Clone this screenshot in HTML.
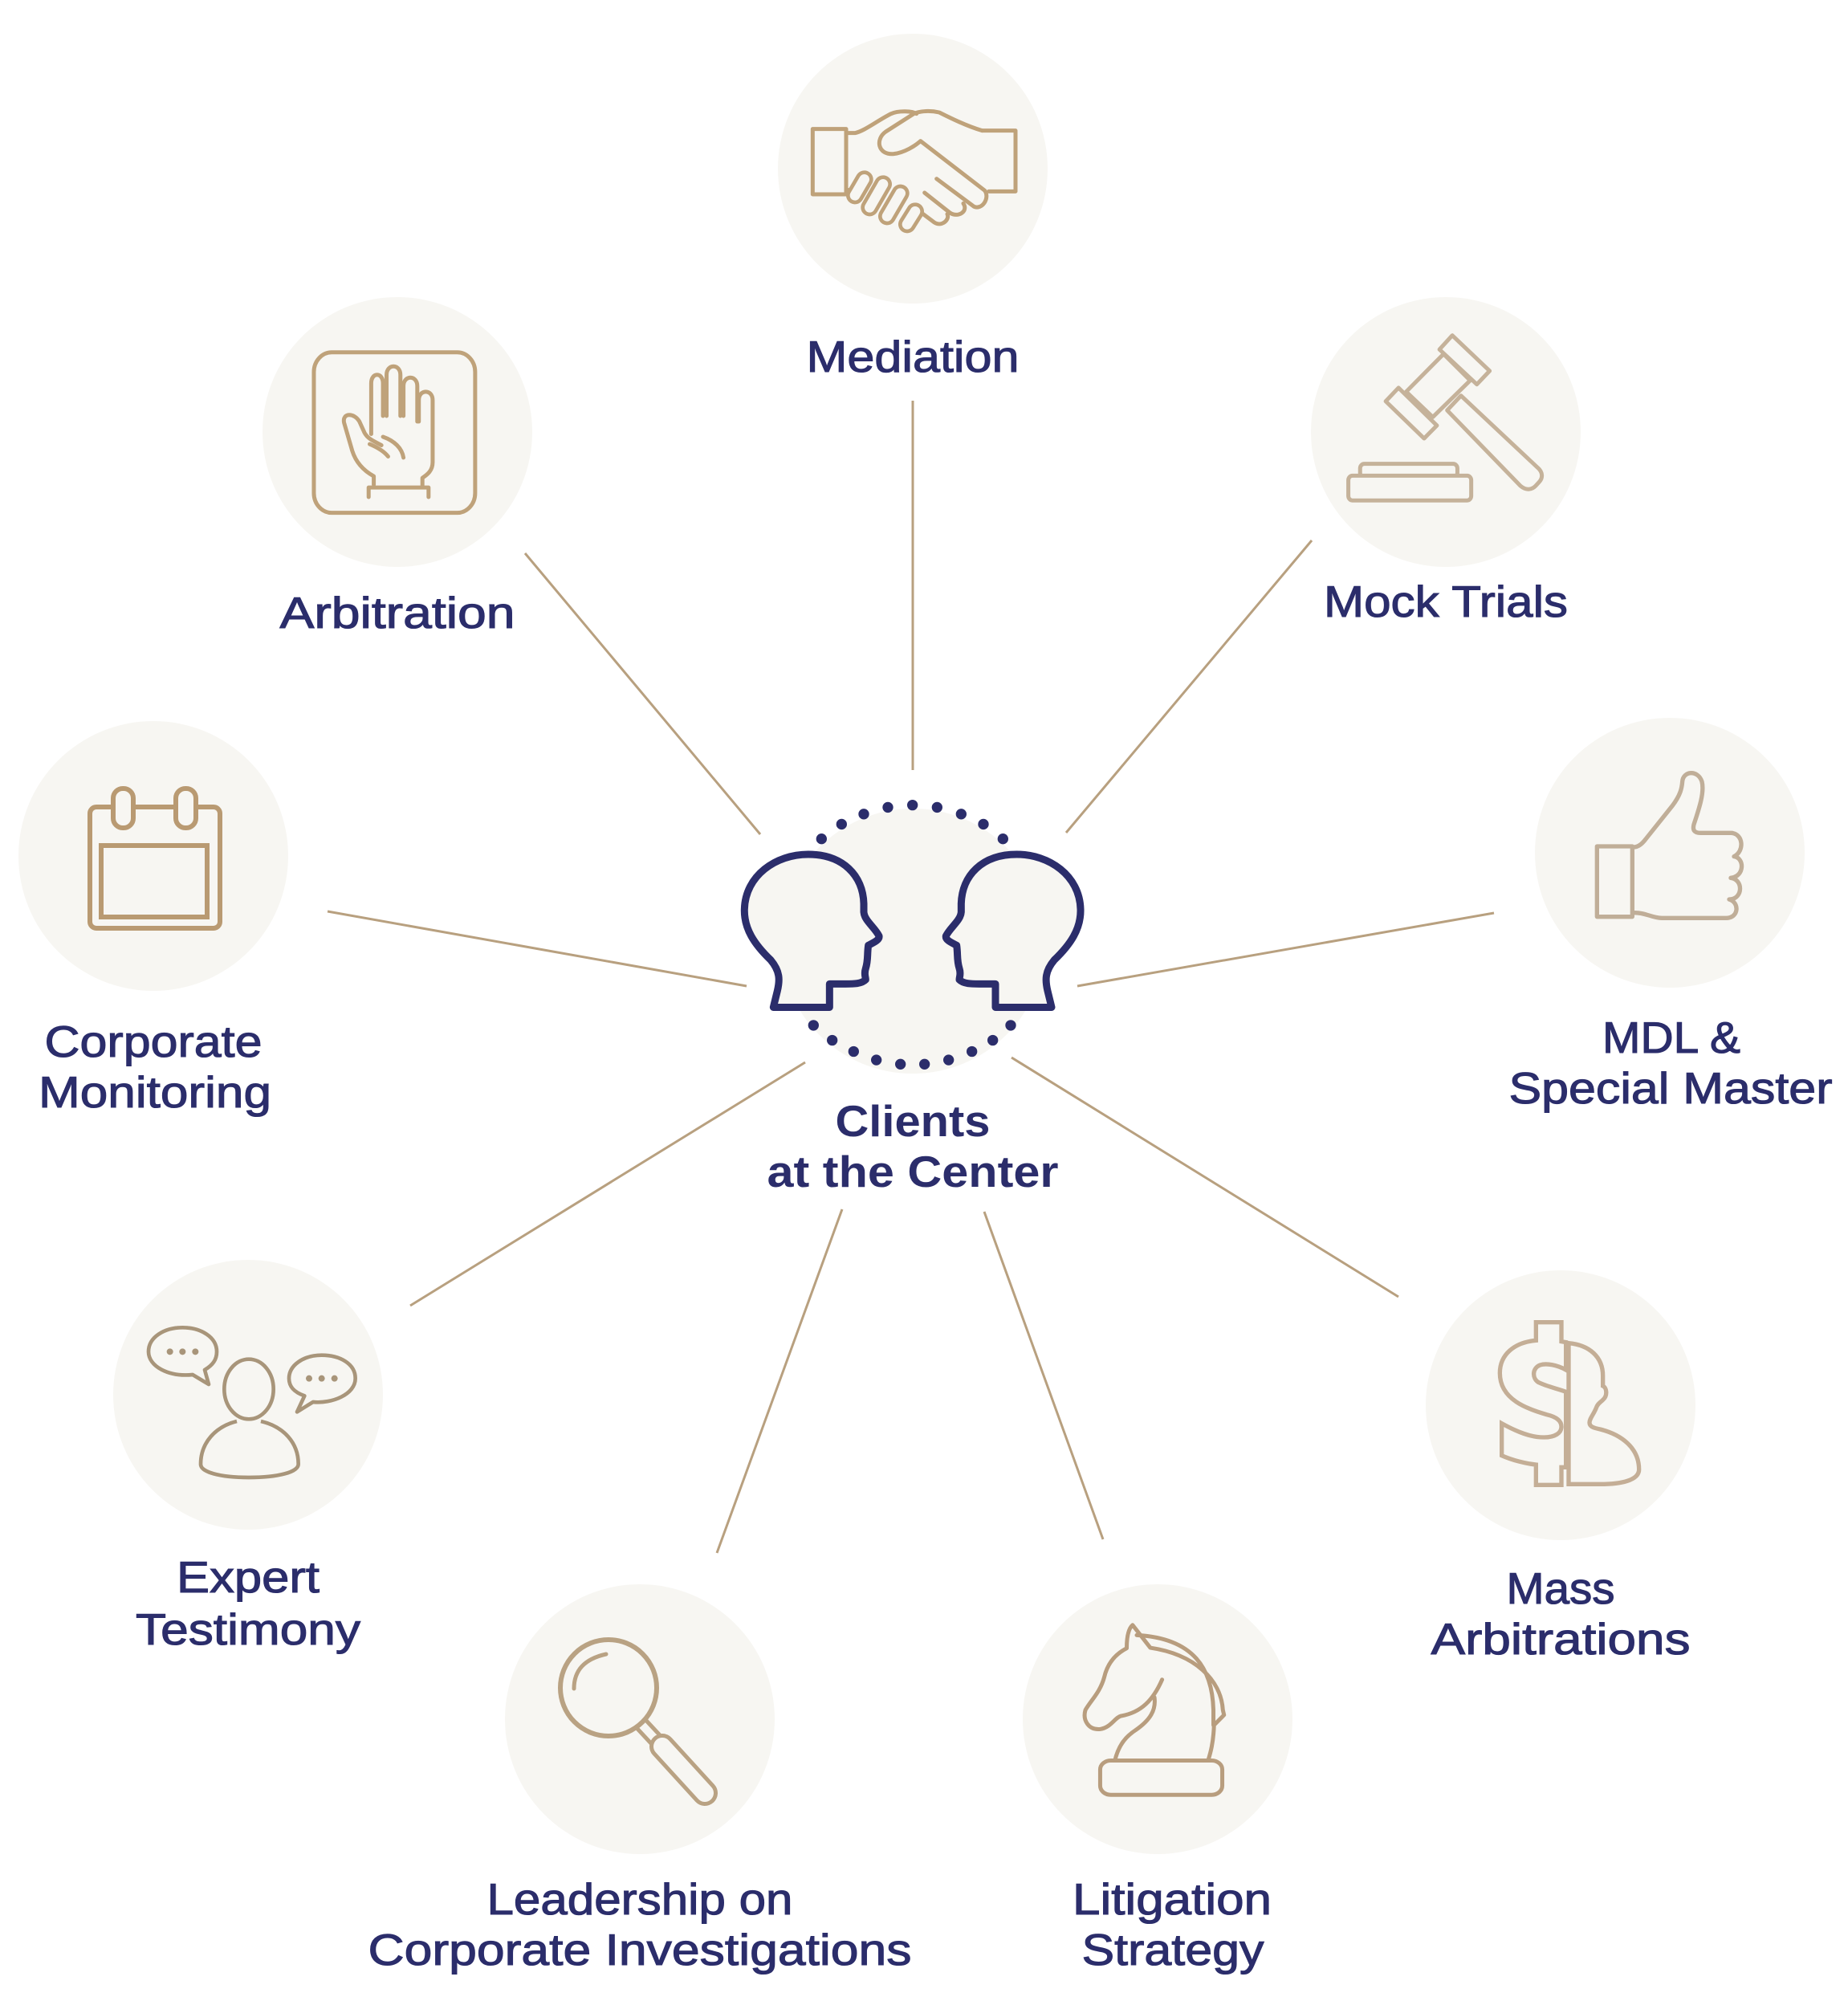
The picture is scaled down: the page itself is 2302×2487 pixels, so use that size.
<!DOCTYPE html>
<html><head><meta charset="utf-8">
<style>
html,body{margin:0;padding:0;background:#fff;}
svg{display:block;}
text{font-family:"Liberation Sans",Arial,sans-serif;fill:#2b2d6b;}
.lbl{font-size:55px;stroke:#2b2d6b;stroke-width:1.1px;}
.bold{font-size:55px;font-weight:bold;}
</style></head>
<body>
<svg width="2302" height="2487" viewBox="0 0 2302 2487" xmlns="http://www.w3.org/2000/svg">
<g fill="#f7f6f2">
<circle cx="1137" cy="210" r="168"/>
<circle cx="495" cy="538" r="168"/>
<circle cx="1801" cy="538" r="168"/>
<circle cx="191" cy="1066" r="168"/>
<circle cx="2080" cy="1062" r="168"/>
<circle cx="309" cy="1737" r="168"/>
<circle cx="1944" cy="1750" r="168"/>
<circle cx="797" cy="2141" r="168"/>
<circle cx="1442" cy="2141" r="168"/>
<circle cx="1137" cy="1172" r="165"/>
</g>
<g stroke="#b8a07f" stroke-width="3" fill="none">
<line x1="1137" y1="499" x2="1137" y2="959"/>
<line x1="654" y1="689" x2="947" y2="1039"/>
<line x1="1634" y1="673" x2="1328" y2="1037"/>
<line x1="408" y1="1135" x2="930" y2="1228"/>
<line x1="1861" y1="1137" x2="1342" y2="1228"/>
<line x1="511" y1="1626" x2="1003" y2="1323"/>
<line x1="1260" y1="1317" x2="1742" y2="1615"/>
<line x1="893" y1="1934" x2="1049" y2="1506"/>
<line x1="1226" y1="1509" x2="1374" y2="1917"/>
</g>

<!-- heads -->
<g transform="translate(900,950) scale(0.33333,0.35075)" fill="#f7f6f2" stroke="#2b2d6b" stroke-width="9" stroke-linejoin="round">
<path vector-effect="non-scaling-stroke" d="M190,868 L205,810 C215,770 215,740 180,700 C120,645 80,590 82,520 C85,400 200,325 320,325 C450,325 525,400 528,500 L528,530 C530,560 570,585 585,615 C588,630 560,640 545,648 C540,680 545,700 535,730 C528,750 535,760 535,770 C520,785 490,785 460,785 L400,785 L400,868 Z"/>
<g transform="translate(1420,0) scale(-1,1)"><path vector-effect="non-scaling-stroke" d="M190,868 L205,810 C215,770 215,740 180,700 C120,645 80,590 82,520 C85,400 200,325 320,325 C450,325 525,400 528,500 L528,530 C530,560 570,585 585,615 C588,630 560,640 545,648 C540,680 545,700 535,730 C528,750 535,760 535,770 C520,785 490,785 460,785 L400,785 L400,868 Z"/></g>
<g fill="#2b2d6b" stroke="none">
<ellipse cx="370" cy="270" rx="20" ry="19"/><ellipse cx="445" cy="218" rx="20" ry="19"/><ellipse cx="528" cy="182" rx="20" ry="19"/><ellipse cx="618" cy="158" rx="20" ry="19"/><ellipse cx="710" cy="150" rx="20" ry="19"/><ellipse cx="802" cy="158" rx="20" ry="19"/><ellipse cx="892" cy="182" rx="20" ry="19"/><ellipse cx="975" cy="218" rx="20" ry="19"/><ellipse cx="1048" cy="270" rx="20" ry="19"/>
<ellipse cx="340" cy="932" rx="20" ry="19"/><ellipse cx="410" cy="985" rx="20" ry="19"/><ellipse cx="490" cy="1025" rx="20" ry="19"/><ellipse cx="575" cy="1055" rx="20" ry="19"/><ellipse cx="665" cy="1070" rx="20" ry="19"/><ellipse cx="755" cy="1070" rx="20" ry="19"/><ellipse cx="845" cy="1055" rx="20" ry="19"/><ellipse cx="932" cy="1025" rx="20" ry="19"/><ellipse cx="1010" cy="985" rx="20" ry="19"/><ellipse cx="1077" cy="932" rx="20" ry="19"/>
</g>
</g>

<!-- handshake -->
<g transform="translate(950,0) scale(0.33333)" fill="none" stroke="#bfa27a" stroke-width="15" stroke-linejoin="round" stroke-linecap="round">
<rect x="187" y="482" width="125" height="244"/>
<path d="M312,497 L345,497 C380,490 430,450 480,425 C510,412 560,415 575,425"/>
<path d="M820,488 L945,488 L945,715 L845,715"/>
<path d="M820,488 C760,470 700,440 660,420 C630,413 590,413 565,425 L460,492 C420,520 430,580 490,575 C530,570 570,545 590,527 L830,712 C850,740 820,785 790,772 L650,668"/>
<path d="M605,720 L700,795 C730,815 770,790 750,760"/>
<path d="M560,770 L640,830 C670,850 700,820 690,800"/>
<path d="M312,710 L330,710"/>
<g stroke-width="66"><line x1="380" y1="670" x2="345" y2="730"/><line x1="450" y1="688" x2="400" y2="775"/><line x1="515" y1="722" x2="465" y2="808"/><line x1="570" y1="790" x2="540" y2="838"/></g>
<g stroke="#f7f6f2" stroke-width="38"><line x1="380" y1="670" x2="345" y2="730"/><line x1="450" y1="688" x2="400" y2="775"/><line x1="515" y1="722" x2="465" y2="808"/><line x1="570" y1="790" x2="540" y2="838"/></g>
</g>

<!-- arbitration hand -->
<g transform="translate(0,330) scale(0.6378,0.7015)" fill="none" stroke="#bfa27a" stroke-width="5" stroke-linecap="round" stroke-linejoin="round">
<rect x="613" y="155" width="315" height="285" rx="35" vector-effect="non-scaling-stroke"/>
<path vector-effect="non-scaling-stroke" d="M720,412 L720,395 L837,395 L837,412"/>
<path vector-effect="non-scaling-stroke" d="M730,390 L730,375 C710,365 695,350 688,330 L672,280 C668,262 692,262 702,278 L712,298 C718,308 728,312 745,320"/>
<path vector-effect="non-scaling-stroke" d="M725,300 L725,210 C725,190 748,190 748,210 L748,268"/>
<path vector-effect="non-scaling-stroke" d="M755,268 L755,195 C755,175 782,175 782,195 L782,268"/>
<path vector-effect="non-scaling-stroke" d="M788,268 L788,215 C788,195 815,195 815,215 L815,278"/>
<path vector-effect="non-scaling-stroke" d="M818,278 L818,240 C818,220 845,220 845,240 L845,350 C845,365 835,372 825,378 L825,392"/>
<path vector-effect="non-scaling-stroke" d="M748,305 C770,312 785,325 788,342"/>
<path vector-effect="non-scaling-stroke" d="M722,318 C740,325 752,333 758,340"/>
</g>

<!-- calendar -->
<g fill="none" stroke="#b99a72" stroke-width="6">
<rect x="112" y="1005" width="162" height="151" rx="8"/>
<rect x="126" y="1053" width="132" height="89"/>
<rect x="141" y="982" width="25" height="49" rx="12" fill="#f7f6f2"/>
<rect x="219" y="982" width="25" height="49" rx="12" fill="#f7f6f2"/>
</g>

<!-- gavel -->
<g transform="translate(1302,330) scale(0.6378,0.7015)" fill="#f7f6f2" stroke="#c5b29a" stroke-linejoin="round">
<rect x="615" y="353" width="190" height="24" rx="8" stroke-width="5" vector-effect="non-scaling-stroke"/>
<rect x="592" y="374" width="240" height="44" rx="8" stroke-width="5" vector-effect="non-scaling-stroke"/>
<path d="M785,258 L928,392 C938,400 950,400 958,392 L965,385 C972,378 972,368 962,360 L812,232 Z" stroke-width="5" vector-effect="non-scaling-stroke"/>
<path d="M705,225 L778,158 L830,205 L757,270 Z" stroke-width="5" vector-effect="non-scaling-stroke"/>
<path d="M665,242 L690,218 L765,285 L740,308 Z" stroke-width="5" vector-effect="non-scaling-stroke"/>
<path d="M770,150 L795,125 L868,188 L843,212 Z" stroke-width="5" vector-effect="non-scaling-stroke"/>
</g>

<!-- thumb -->
<g transform="translate(1950,920) scale(0.33333)" fill="none" stroke="#c0ae98" stroke-width="16" stroke-linejoin="round" stroke-linecap="round">
<rect x="118" y="402" width="132" height="263"/>
<path d="M255,405 C270,405 285,395 300,375 L400,250 C430,210 435,185 437,160 C440,120 495,115 510,160 C520,200 500,260 480,320 C475,340 480,352 505,352 L620,352 C665,355 670,420 630,440 C670,445 670,515 618,520 C665,525 665,600 612,600 C650,610 650,670 600,670 L360,670 C320,668 300,650 258,650"/>
</g>

<!-- expert testimony -->
<g transform="translate(150,1620) scale(0.33333)" fill="none" stroke="#a8957a" stroke-width="14" stroke-linejoin="round">
<path d="M270,276 C180,285 105,245 105,190 C105,135 165,100 232,100 C300,100 360,135 360,190 C360,220 345,240 315,258 L330,312 Z"/>
<path d="M720,378 C790,385 878,350 878,290 C878,235 820,203 752,203 C685,203 630,240 630,290 C630,318 645,340 688,355 L660,415 Z"/>
<ellipse cx="480" cy="330" rx="92" ry="112"/>
<path d="M435,450 C355,470 300,530 300,610 C300,640 370,660 480,660 C590,660 665,640 665,610 C665,530 610,470 525,450"/>
<g fill="#a8957a" stroke="none"><circle cx="185" cy="190" r="12"/><circle cx="232" cy="190" r="12"/><circle cx="280" cy="190" r="12"/><circle cx="705" cy="290" r="12"/><circle cx="752" cy="290" r="12"/><circle cx="800" cy="290" r="12"/></g>
</g>

<!-- dollar -->
<g transform="translate(1780,1580) scale(0.33333)" fill="none" stroke="#c4ae96" stroke-width="16" stroke-linejoin="miter">
<path d="M400,200 L495,200 L495,272 L512,275 L512,378 C480,360 440,352 415,360 C385,372 385,410 410,425 C440,440 480,448 512,460 L512,742 L495,742 L495,808 L400,808 L400,732 C360,728 310,715 272,698 L272,578 C330,610 380,630 430,630 C470,630 495,615 495,590 C495,565 470,552 440,545 C370,525 265,490 265,390 C265,320 320,275 400,268 Z"/>
<path d="M522,278 C600,285 650,330 650,400 L650,438 C665,445 668,475 650,490 C640,500 630,505 625,520 C615,545 600,560 600,575 C600,590 615,595 640,600 C720,620 785,670 785,750 C785,790 720,805 640,805 L522,805 Z"/>
</g>

<!-- magnifier -->
<g fill="none" stroke="#b9a283" stroke-linecap="round">
<line x1="795" y1="2143" x2="822" y2="2172" stroke-width="20"/>
<line x1="795" y1="2143" x2="822" y2="2172" stroke-width="10" stroke="#f7f6f2"/>
<line x1="825" y1="2175" x2="878" y2="2233" stroke-width="32"/>
<line x1="825" y1="2175" x2="878" y2="2233" stroke-width="22" stroke="#f7f6f2"/>
<circle cx="758" cy="2102" r="60" stroke-width="6" fill="#f7f6f2"/>
<path d="M715,2103 C715,2080 728,2066 755,2060" stroke-width="5"/>
</g>

<!-- knight -->
<g transform="translate(1150,1500) scale(0.7348,0.6295)" fill="none" stroke="#b89d7e" stroke-width="5" stroke-linejoin="round" stroke-linecap="round">
<rect x="300" y="1100" width="207" height="68" rx="18" vector-effect="non-scaling-stroke"/>
<path vector-effect="non-scaling-stroke" d="M325,1100 C330,1075 340,1055 360,1040 C385,1020 395,1000 392,975"/>
<path vector-effect="non-scaling-stroke" d="M405,940 C390,980 370,1005 335,1012 C325,1015 318,1035 300,1038 C280,1040 270,1020 275,1000 C285,980 300,965 307,935 C312,910 325,890 345,878 C345,860 347,840 355,832 L385,877 C460,890 505,940 508,1000 L510,1010 L493,1030 C492,1065 487,1085 483,1100"/>
<path vector-effect="non-scaling-stroke" d="M362,852 C460,858 490,920 492,1000 L492,1030"/>
</g>

<!-- labels -->
<text class="lbl" x="1137" y="463" text-anchor="middle" textLength="265" lengthAdjust="spacingAndGlyphs">Mediation</text>
<text class="lbl" x="495" y="782" text-anchor="middle" textLength="293" lengthAdjust="spacingAndGlyphs">Arbitration</text>
<text class="lbl" x="1801" y="768" text-anchor="middle" textLength="304" lengthAdjust="spacingAndGlyphs">Mock Trials</text>
<text class="lbl" x="191" y="1316" text-anchor="middle" textLength="271" lengthAdjust="spacingAndGlyphs">Corporate</text>
<text class="lbl" x="193" y="1379" text-anchor="middle" textLength="290" lengthAdjust="spacingAndGlyphs">Monitoring</text>
<text class="lbl" x="2082" y="1311" text-anchor="middle" textLength="172" lengthAdjust="spacingAndGlyphs">MDL &amp;</text>
<text class="lbl" x="2081" y="1374" text-anchor="middle" textLength="403" lengthAdjust="spacingAndGlyphs">Special Master</text>
<text class="bold" x="1137" y="1415" text-anchor="middle" textLength="193" lengthAdjust="spacingAndGlyphs">Clients</text>
<text class="bold" x="1137" y="1478" text-anchor="middle" textLength="363" lengthAdjust="spacingAndGlyphs">at the Center</text>
<text class="lbl" x="309" y="1983" text-anchor="middle" textLength="178" lengthAdjust="spacingAndGlyphs">Expert</text>
<text class="lbl" x="309" y="2048" text-anchor="middle" textLength="280" lengthAdjust="spacingAndGlyphs">Testimony</text>
<text class="lbl" x="1944" y="1997" text-anchor="middle" textLength="135" lengthAdjust="spacingAndGlyphs">Mass</text>
<text class="lbl" x="1944" y="2060" text-anchor="middle" textLength="323" lengthAdjust="spacingAndGlyphs">Arbitrations</text>
<text class="lbl" x="797" y="2384" text-anchor="middle" textLength="381" lengthAdjust="spacingAndGlyphs">Leadership on</text>
<text class="lbl" x="797" y="2447" text-anchor="middle" textLength="677" lengthAdjust="spacingAndGlyphs">Corporate Investigations</text>
<text class="lbl" x="1460" y="2384" text-anchor="middle" textLength="248" lengthAdjust="spacingAndGlyphs">Litigation</text>
<text class="lbl" x="1461" y="2447" text-anchor="middle" textLength="227" lengthAdjust="spacingAndGlyphs">Strategy</text>
</svg>
</body></html>
